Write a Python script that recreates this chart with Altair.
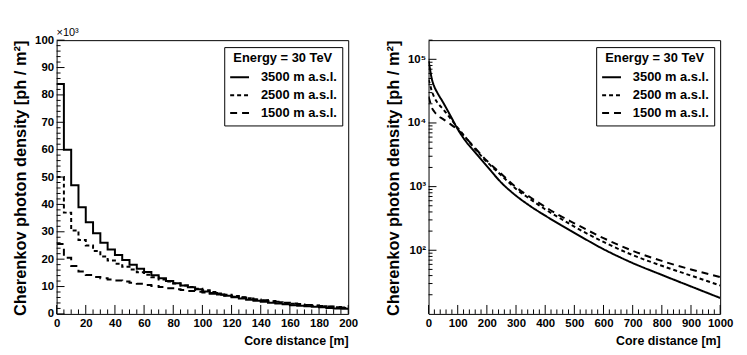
import altair as alt
import pandas as pd

FONT = "Liberation Sans"
W, H = 294, 276

labels = ["3500 m a.s.l.", "2500 m a.s.l.", "1500 m a.s.l."]
dashes = [[1, 0], [4, 3], [7, 5]]

# Left panel: histogram, 5 m bins, values in units of 10^3 ph/m^2
edges = list(range(0, 200, 5))
h3500 = [84, 60, 47, 39, 33.5, 29.5, 26, 23.5, 21.5, 19.7, 18, 16.5, 15.3, 14.1, 13, 12, 11.2, 10.4, 9.7, 9.0,
         8.2, 7.6, 7.1, 6.6, 6.1, 5.6, 5.2, 4.8, 4.4, 4.1, 3.8, 3.5, 3.2, 3.0, 2.8, 2.6, 2.4, 2.2, 2.0, 1.9]
h2500 = [50, 37, 30.5, 27, 25, 23, 21, 19.5, 18.3, 17.2, 16.2, 15.2, 14.3, 13.4, 12.6, 11.8, 11.1, 10.4, 9.8, 9.2,
         8.6, 8.0, 7.5, 7.0, 6.5, 6.1, 5.7, 5.3, 4.9, 4.6, 4.3, 4.0, 3.7, 3.4, 3.2, 3.0, 2.8, 2.6, 2.4, 2.2]
h1500 = [25.5, 20.5, 17.5, 15.5, 14.2, 13.5, 13, 12.6, 12.2, 11.8, 11.4, 11, 10.6, 10.2, 9.8, 9.4, 9.0, 8.7, 8.4, 8.1,
         7.8, 7.4, 7.0, 6.7, 6.3, 6.0, 5.6, 5.3, 5.0, 4.7, 4.4, 4.1, 3.8, 3.6, 3.3, 3.1, 2.9, 2.7, 2.5, 2.3]

# Right panel: lateral profiles, ph/m^2
r_curve = [0, 5, 10, 20, 30, 50, 75, 100, 130, 150, 200, 250, 300, 350, 400, 450, 500, 600, 700, 800, 900, 1000]
c3500 = [95000, 70000, 52000, 37000, 30000, 21000, 13000, 8000, 5000, 3900, 2100, 1150, 720, 490, 350, 255, 188,
         104, 63, 41, 27, 17.8]
c2500 = [48000, 40000, 33000, 25000, 21000, 16500, 11800, 8400, 5700, 4400, 2450, 1500, 920, 630, 440, 320, 235,
         135, 84, 57, 40, 28]
c1500 = [26000, 21500, 18000, 15000, 13300, 11500, 9600, 7800, 5700, 4500, 2550, 1580, 980, 675, 480, 350, 265,
         155, 98, 68, 50, 38]

xmajL = list(range(0, 201, 20))
xminL = [v for v in range(0, 201, 5) if v % 20]
ymajL = list(range(0, 101, 10))
yminL = [v for v in range(0, 101, 2) if v % 10]
xmajR = list(range(0, 1001, 100))
xminR = [v for v in range(0, 1001, 20) if v % 100]
ymajR = [100, 1000, 10000, 100000]
yminR = [m * 10 ** k for k in range(1, 6) for m in range(2, 10) if m * 10 ** k <= 200000]


def legend():
    return alt.Legend(
        title="Energy = 30 TeV", orient="none", legendX=169, legendY=7,
        strokeColor="black", fillColor="white", padding=5, cornerRadius=0,
        titleFont=FONT, titleFontSize=13, titleFontWeight="bold", titleColor="black",
        titleAnchor="middle", titlePadding=2,
        labelFont=FONT, labelFontSize=13, labelFontWeight="bold", labelColor="black",
        labelOffset=11, symbolType="stroke", symbolStrokeWidth=2, symbolSize=361,
        symbolStrokeColor="black", rowPadding=0,
    )


def xaxis(vals):
    return alt.Axis(values=vals, title="Core distance [m]", format="d", ticks=False, domain=False, grid=False,
                    labelFont=FONT, labelFontSize=11.5, labelFontWeight="bold", labelColor="black",
                    labelPadding=4, labelFlush=False, labelOverlap=False,
                    titleFont=FONT, titleFontSize=12.5, titleFontWeight="bold", titleColor="black",
                    titleAnchor="end", titlePadding=5)


def yaxis(vals, label_expr=None):
    kw = dict(values=vals, title="Cherenkov photon density [ph / m²]", ticks=False, domain=False, grid=False,
              labelFont=FONT, labelFontSize=11.5, labelFontWeight="bold", labelColor="black",
              labelPadding=3, labelFlush=False, labelOverlap=False,
              titleFont=FONT, titleFontSize=16.5, titleFontWeight="bold", titleColor="black",
              titleAnchor="end", titlePadding=6)
    if label_expr:
        kw["labelExpr"] = label_expr
    return alt.Axis(**kw)


def ticks(xs, ys, xax, yax, xmaj, xmin, ymaj, ymin):
    out = []
    for vals, ln in ((xmaj, 9), (xmin, 4.5)):
        out.append(alt.Chart(pd.DataFrame({"r": vals})).mark_rule(color="black", strokeWidth=1).encode(
            x=alt.X("r:Q", scale=xs, axis=xax), y=alt.value(H), y2=alt.value(H - ln)))
    for vals, ln in ((ymaj, 8), (ymin, 4)):
        out.append(alt.Chart(pd.DataFrame({"d": vals})).mark_rule(color="black", strokeWidth=1).encode(
            y=alt.Y("d:Q", scale=ys, axis=yax), x=alt.value(0), x2=alt.value(ln)))
    return out


# Left panel
rows = []
for lab, vals in zip(labels, [h3500, h2500, h1500]):
    for e, v in zip(edges + [200], vals + [vals[-1]]):
        rows.append({"r": e, "d": v, "alt": lab})
dfL = pd.DataFrame(rows)
xsL = alt.Scale(domain=[0, 200], nice=False, zero=False)
ysL = alt.Scale(domain=[0, 100], nice=False)
xaxL = xaxis(xmajL)
yaxL = yaxis(ymajL)
lineL = alt.Chart(dfL).mark_line(interpolate="step-after", color="black", strokeWidth=2, clip=True).encode(
    x=alt.X("r:Q", scale=xsL, axis=xaxL),
    y=alt.Y("d:Q", scale=ysL, axis=yaxL),
    strokeDash=alt.StrokeDash("alt:N", scale=alt.Scale(domain=labels, range=dashes), legend=legend()),
)
expo = alt.Chart(pd.DataFrame({"t": ["×10³"]})).mark_text(
    font=FONT, fontSize=11, align="left", baseline="bottom", color="black").encode(
    x=alt.value(0), y=alt.value(-2), text="t:N")
left = alt.layer(lineL, *ticks(xsL, ysL, xaxL, yaxL, xmajL, xminL, ymajL, yminL), expo).properties(width=W, height=H)

# Right panel
rows = []
for lab, vals in zip(labels, [c3500, c2500, c1500]):
    for r, v in zip(r_curve, vals):
        rows.append({"r": r, "d": v, "alt": lab})
dfR = pd.DataFrame(rows)
xsR = alt.Scale(domain=[0, 1000], nice=False, zero=False)
ysR = alt.Scale(type="log", domain=[10, 200000], nice=False)
lexpr = "datum.value == 100 ? '10²' : datum.value == 1000 ? '10³' : datum.value == 10000 ? '10⁴' : '10⁵'"
xaxR = xaxis(xmajR)
yaxR = yaxis(ymajR, lexpr)
lineR = alt.Chart(dfR).mark_line(interpolate="monotone", color="black", strokeWidth=2, clip=True).encode(
    x=alt.X("r:Q", scale=xsR, axis=xaxR),
    y=alt.Y("d:Q", scale=ysR, axis=yaxR),
    strokeDash=alt.StrokeDash("alt:N", scale=alt.Scale(domain=labels, range=dashes), legend=legend()),
)
right = alt.layer(lineR, *ticks(xsR, ysR, xaxR, yaxR, xmajR, xminR, ymajR, yminR)).properties(width=W, height=H)

chart = alt.hconcat(left, right, spacing=26).resolve_scale(
    strokeDash="independent").resolve_legend(strokeDash="independent").properties(
    padding={"left": 4, "top": 17, "right": 5, "bottom": 5}
).configure(background="white").configure_view(stroke="black", strokeWidth=1)

chart.save("out.html", embed_options={"renderer": "svg", "actions": False})
